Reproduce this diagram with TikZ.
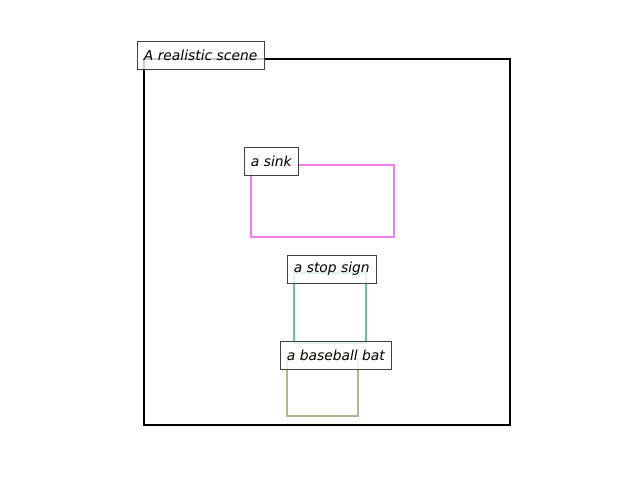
\documentclass[tikz,border=0pt]{standalone}
\usepackage{fontspec}
\setmainfont{DejaVu Sans}
\definecolor{SinkClr}{RGB}{243,125,243}
\definecolor{StopClr}{RGB}{106,190,165}
\definecolor{BatClr}{RGB}{184,180,142}

\tikzset{
  region/.style={line width=1.44pt},
  tag/.style={draw=black!75,fill=white,fill opacity=0.8,text opacity=1,
    anchor=north west,inner xsep=4.8pt,inner ysep=0pt,minimum height=20pt,
    font=\itshape\fontsize{10}{12}\selectfont},
}

\begin{document}
\begin{tikzpicture}[x=0.01in,y=-0.01in]
\useasboundingbox (0,0) rectangle (640,480);

% regions
\draw[region,black] (144,59) rectangle (510,425);
\draw[region,SinkClr] (251,165) rectangle (394,237);
\draw[region,StopClr] (294,273) rectangle (366,343);
\draw[region,BatClr] (287,359) rectangle (358,416);

% labels
\node[tag] (scene) at (137,41) {A realistic scene};
\node[tag] (sink) at (244,147) {a sink};
\node[tag] (stop) at (287,255) {a stop sign};
\node[tag] (bat) at (280,341) {a baseball bat};

\end{tikzpicture}
\end{document}
